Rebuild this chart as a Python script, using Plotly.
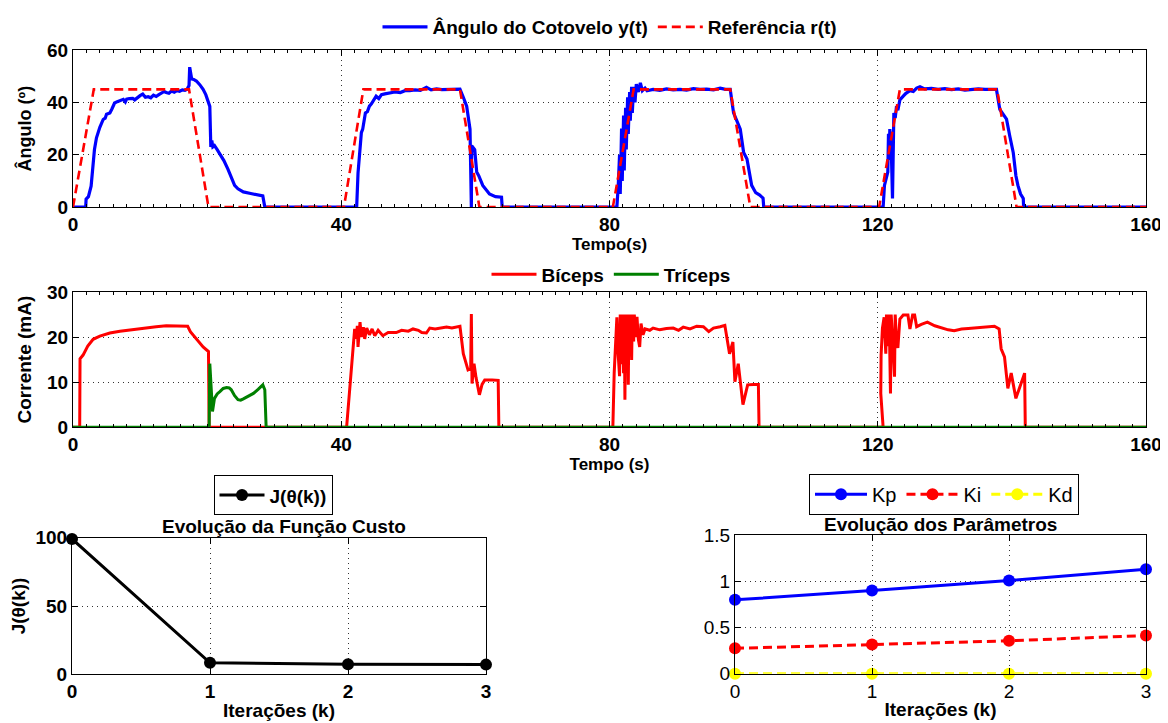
import plotly.graph_objects as go

# ---------------- DATA ----------------
# Reference r(t)
ref_t = [0, 3.1, 17.3, 20.2, 40.4, 43.3, 57.7, 60.6, 80.5, 83.6, 98.0, 101.0,
         120.2, 123.3, 137.8, 140.7, 160]
ref_v = [0, 45, 45, 0, 0, 45, 45, 0, 0, 45, 45, 0, 0, 45, 45, 0, 0]

# Elbow angle y(t), per cycle
ang_t1 = [0, 1.9, 1.95, 2.3, 2.7, 2.9, 3.2, 3.5, 3.7, 4.0, 4.5, 4.8, 5.0, 5.5, 5.8, 6.2, 6.6,
          7.0, 7.5, 7.8, 8.0, 8.4, 8.9, 9.2, 9.6, 10.0, 10.4, 10.8, 11.2, 11.6, 12.0, 12.4,
          12.8, 13.2, 13.6, 13.9, 14.3, 14.7, 15.1, 15.5, 15.9, 16.3, 16.7, 17.0, 17.3, 17.4,
          17.55, 17.7, 18.0, 18.4, 18.9, 19.4, 19.8, 20.1, 20.4, 20.55, 20.7, 20.85, 21.1,
          21.5, 21.9, 22.5, 23.1, 23.6, 24.1, 24.6, 25.4, 26.5, 27.5, 28.3, 28.6]
ang_v1 = [0, 0, 3.0, 4.0, 8.0, 14, 22, 26.5, 28.5, 30.5, 33.5, 34.0, 35.5, 36.0, 37.5, 39.8,
          40.3, 40.6, 41.2, 40.2, 41.3, 41.5, 41.6, 41.0, 42.0, 42.6, 43.2, 42.0, 42.2, 41.8,
          42.8, 42.3, 43.0, 43.6, 44.2, 43.8, 43.5, 44.4, 43.9, 44.5, 44.3, 44.8, 44.6, 45.0,
          46.5, 53.5, 50.0, 49.0, 48.8, 48.2, 46.8, 45.0, 43.0, 41.0, 38.5, 23.0, 25.5, 23.0,
          23.5, 22.0, 20.5, 17.8, 14.5, 11.0, 8.3, 7.0, 5.8, 5.2, 4.8, 4.3, 0]
ang_t2 = [42.3, 42.5, 42.8, 43.0, 43.2, 43.4, 43.6, 43.9, 44.2, 44.5, 44.8, 45.2, 45.6, 46.0,
          46.5, 47.2, 48.0, 48.8, 49.5, 50.2, 51.0, 51.8, 52.7, 53.4, 54.2, 55.0, 55.7, 56.5,
          57.2, 57.7, 58.2, 58.7, 59.2, 59.3, 59.4, 59.45, 59.9, 60.2, 60.5, 61.1, 62.1, 63.0,
          63.9, 64.0]
ang_v2 = [0, 13, 22, 28.5, 29.8, 33.5, 36.0, 36.5, 38.6, 39.5, 41.0, 42.4, 41.5, 43.0, 43.3,
          43.6, 44.0, 43.8, 44.5, 44.5, 44.8, 44.6, 45.8, 44.8, 45.2, 44.9, 45.0, 45.2, 45.0,
          45.1, 42.0, 38.6, 29.8, 0, 0, 23.5, 22.0, 13.4, 12.0, 8.3, 5.0, 4.0, 3.8, 0]
ang_t3 = [81.1, 81.3, 81.5, 81.6, 81.8, 81.9, 82.1, 82.2, 82.4, 82.5, 82.7, 82.8, 83.0, 83.1,
          83.3, 83.4, 83.6, 83.8, 84.0, 84.3, 84.6, 84.9, 85.3, 85.6, 86.5, 87.5, 88.5, 89.5,
          90.5, 91.5, 92.5, 93.5, 94.5, 95.5, 96.5, 97.3, 98.0, 98.5, 99.0, 99.5, 100.0, 100.5,
          101.2, 101.8, 102.4, 102.9, 103.0]
ang_v3 = [0, 8, 20, 5, 30, 10, 35, 14, 38, 22, 42, 28, 44, 33, 46, 36, 46, 40, 47, 44, 47.5,
          44.5, 45.5, 44.5, 45.0, 44.6, 45.2, 44.8, 45.0, 44.7, 45.3, 45.0, 45.1, 44.8, 45.5,
          45.0, 45.0, 36.0, 33.0, 29.8, 20.9, 18.4, 8.3, 5.5, 4.6, 3.4, 0]
ang_t4 = [120.8, 121.0, 121.3, 121.5, 121.6, 121.7, 121.8, 122.0, 122.2, 122.3, 122.4, 122.6,
          122.8, 123.0, 123.3, 123.8, 124.2, 124.8, 125.3, 125.8, 126.3, 127.0, 128.0, 129.0,
          130.0, 131.0, 132.0, 133.0, 134.0, 135.0, 136.0, 137.0, 137.7, 138.2, 138.7, 139.2,
          139.7, 140.2, 140.6, 140.9, 141.3, 141.7, 141.75, 160]
ang_v4 = [0, 8.3, 12, 13.4, 28, 18, 29.8, 24, 3.3, 30, 36, 34, 38.6, 37, 41, 42.4, 43.5, 44.5,
          44.2, 45.5, 46.0, 45.2, 45.4, 45.0, 45.3, 44.9, 45.2, 44.7, 45.0, 45.2, 45.0, 45.1,
          45.0, 37.4, 35.5, 33.6, 27.0, 20.9, 12.0, 8.3, 5.0, 3.3, 0, 0]

# Biceps current
bic_t = [0, 1.0, 1.05, 1.5, 2.2, 3.0, 4.0, 5.5, 7.0, 8.9, 10.5, 12.4, 13.9, 16.0, 17.1, 17.5,
         18.5, 19.4, 20.2, 20.3,
         40.8, 42.0, 42.2, 42.4, 42.5, 42.8, 43.0, 43.3, 43.5, 43.8, 44.2, 44.6, 45.0, 45.5,
         46.2, 47.0, 48.2, 49.0, 50.0, 50.7, 51.5, 52.0, 52.7, 53.2, 54.0, 55.0, 55.7, 56.5,
         57.2, 57.7, 58.2, 58.9, 59.3, 59.4, 59.5, 59.8, 60.1, 60.6, 61.0, 61.4, 62.5, 63.4,
         63.5,
         80.5, 80.7, 81.0, 81.1, 81.3, 81.5, 81.6, 81.8, 81.9, 82.1, 82.2, 82.3, 82.4, 82.6,
         82.7, 82.8, 82.9, 83.1, 83.2, 83.3, 83.4, 83.6, 83.7, 83.9, 84.1, 84.3, 84.5, 84.7,
         85.0, 85.3, 86.0, 86.5, 87.5, 88.5, 89.5, 90.3, 91.0, 92.0, 93.0, 94.0, 94.8, 95.5,
         96.5, 97.2, 97.9, 98.4, 98.7, 99.2, 99.9, 100.3, 100.6, 101.5, 102.2, 102.3,
         120.8, 120.45, 120.5, 120.7, 120.95, 121.2, 121.3, 121.5, 121.7, 121.9, 122.0, 122.2,
         122.5, 122.6, 122.8, 123.0, 123.3, 123.8, 124.5, 124.8, 125.2, 125.5, 125.8, 126.5,
         127.4, 128.5, 129.5, 130.5, 131.4, 132.5, 133.5, 134.9, 136.0, 137.4, 138.1, 138.4,
         138.9, 139.4, 139.9, 140.3, 140.6, 141.2, 141.9, 142.0, 160]
bic_v = [0, 0, 15.2, 16.0, 18.0, 19.5, 20.2, 20.9, 21.3, 21.7, 22.0, 22.3, 22.5, 22.5, 22.4,
         21.2, 19.5, 17.8, 16.8, 0,
         0, 21.8, 19.6, 22.5, 17.8, 23.3, 20.0, 22.2, 19.6, 22.0, 20.5, 21.8, 20.3, 21.5, 20.3,
         21.0, 21.0, 21.5, 21.3, 21.8, 21.5, 21.0, 20.9, 22.0, 21.8, 22.0, 22.2, 22.0, 22.3,
         22.4, 16.3, 12.7, 13.0, 25.1, 9.7, 14.1, 11.0, 7.2, 9.5, 10.5, 10.5, 10.4, 0,
         0, 12, 22, 24.4, 16, 11.3, 25, 14, 25, 12, 25, 6.1, 25, 13, 25, 9.4, 25, 16, 25, 14.9,
         25, 19, 25, 20, 24.5, 19.5, 17.8, 23, 20.5, 21.8, 21.5, 22.0, 21.6, 21.9, 22.0, 21.5,
         22.2, 21.8, 22.4, 22.3, 21.2, 22.0, 22.3, 22.6, 16.3, 18.9, 10.1, 14.1, 5.0, 8.0,
         9.4, 9.5, 9.5, 0,
         0, 7.5, 16, 22, 24.4, 16.3, 25, 18, 25, 7.5, 25, 20, 11.2, 25, 19, 17.6, 24, 24.9,
         24.9, 21.8, 24.9, 24.9, 22.3, 22.8, 23.3, 22.5, 22.0, 21.6, 21.4, 21.8, 21.9, 22.1,
         22.3, 22.4, 21.8, 17.4, 15.6, 8.6, 12.0, 9.0, 6.4, 9.0, 12.0, 0, 0]

# Triceps current
tri_t = [0, 20.3, 20.4, 20.6, 20.8, 21.1, 21.5, 21.9, 22.4, 22.9, 23.3, 23.6, 24.1, 24.6,
         25.0, 25.4, 26.2, 26.9, 27.6, 28.3, 28.6, 28.8, 160]
tri_v = [0, 0, 14.1, 8.0, 3.5, 6.4, 7.4, 7.9, 8.6, 8.8, 8.7, 8.3, 7.0, 6.1, 6.0, 6.3, 6.9,
         7.5, 8.4, 9.4, 8.3, 0, 0]

# Iterations
iters = [0, 1, 2, 3]
cost_J = [99, 8.5, 7.5, 7.2]
Kp = [0.80, 0.90, 1.01, 1.13]
Ki = [0.275, 0.318, 0.357, 0.414]
Kd = [0.0, 0.0, 0.0, 0.0]

# ---------------- FIGURE ----------------
ang_t = ang_t1 + ang_t2 + ang_t3 + ang_t4
ang_v = ang_v1 + ang_v2 + ang_v3 + ang_v4

FONT = "Liberation Sans, Arial, Helvetica, sans-serif"
BLUE, RED, GREEN, YEL = "#0000ff", "#ff0000", "#008000", "#ffff00"

# page body has an 8px margin: figure is drawn at (8, 8)
OFF = 8
W, H = 1168 - OFF, 723 - OFF


def px(x):
    return (x - OFF) / W


def py(y):
    return 1 - (y - OFF) / H


fig = go.Figure()
fig.add_trace(go.Scatter(x=ang_t, y=ang_v, mode="lines", name="Ângulo do Cotovelo y(t)",
                         line=dict(color=BLUE, width=3.2), xaxis="x", yaxis="y",
                         legend="legend", cliponaxis=False))
fig.add_trace(go.Scatter(x=ref_t, y=ref_v, mode="lines", name="Referência r(t)",
                         line=dict(color=RED, width=2.6, dash="9px,5px"), xaxis="x", yaxis="y",
                         legend="legend", cliponaxis=False))
fig.add_trace(go.Scatter(x=bic_t, y=bic_v, mode="lines", name="Bíceps",
                         line=dict(color=RED, width=3), xaxis="x2", yaxis="y2",
                         legend="legend2", cliponaxis=False))
fig.add_trace(go.Scatter(x=tri_t, y=tri_v, mode="lines", name="Tríceps",
                         line=dict(color=GREEN, width=3), xaxis="x2", yaxis="y2",
                         legend="legend2", cliponaxis=False))
fig.add_trace(go.Scatter(x=iters, y=cost_J, mode="lines+markers", name="J(θ(k))",
                         line=dict(color="black", width=3), marker=dict(size=12, color="black"),
                         xaxis="x3", yaxis="y3", legend="legend3", cliponaxis=False))
fig.add_trace(go.Scatter(x=iters, y=Kp, mode="lines+markers", name="Kp",
                         line=dict(color=BLUE, width=3), marker=dict(size=12, color=BLUE),
                         xaxis="x4", yaxis="y4", legend="legend4", cliponaxis=False))
fig.add_trace(go.Scatter(x=iters, y=Ki, mode="lines+markers", name="Ki",
                         line=dict(color=RED, width=3, dash="9px,5px"), marker=dict(size=12, color=RED),
                         xaxis="x4", yaxis="y4", legend="legend4", cliponaxis=False))
fig.add_trace(go.Scatter(x=iters, y=Kd, mode="lines+markers", name="Kd",
                         line=dict(color=YEL, width=3, dash="9px,5px"), marker=dict(size=12, color=YEL),
                         xaxis="x4", yaxis="y4", legend="legend4", cliponaxis=False))

bold_tick = dict(family=FONT, size=19, color="black", weight="bold")
norm_tick = dict(family=FONT, size=19, color="black")


def tfont(size):
    return dict(family=FONT, size=size, color="black", weight="bold")


def ax(domain, rng, tickvals, anchor, tickfont, title=None, tsize=18, minor=None, standoff=None):
    d = dict(domain=domain, range=rng, tickvals=tickvals, anchor=anchor, automargin=False,
             showline=True, linecolor="black", linewidth=1, mirror="allticks",
             ticks="inside", ticklen=6, tickcolor="black", tickwidth=1,
             showgrid=True, gridcolor="#333333", griddash="1px,4px", gridwidth=1,
             zeroline=False, tickfont=tickfont, fixedrange=True)
    if title is not None:
        d["title"] = dict(text=title, font=tfont(tsize))
        if standoff is not None:
            d["title"]["standoff"] = standoff
    if minor is not None:
        d["minor"] = dict(dtick=minor, ticks="inside", ticklen=3, tickcolor="black",
                          showgrid=False)
    return d


XD = [px(73), px(1146)]
fig.update_layout(
    width=W, height=H,
    margin=dict(l=0, r=0, t=0, b=0),
    paper_bgcolor="white", plot_bgcolor="white",
    showlegend=True,
    xaxis=ax(XD, [0, 160], [0, 40, 80, 120, 160], "y", bold_tick, "Tempo(s)", 17, minor=2, standoff=2),
    yaxis=ax([py(202), py(43.5)], [0, 60], [0, 20, 40, 60], "x", bold_tick, "Ângulo (º)", 18, standoff=10),
    xaxis2=ax(XD, [0, 160], [0, 40, 80, 120, 160], "y2", bold_tick, "Tempo (s)", 17, minor=2, standoff=2),
    yaxis2=ax([py(424.3), py(287.7)], [0, 30], [0, 10, 20, 30], "x2", bold_tick, "Corrente (mA)", 19, standoff=10),
    xaxis3=ax([px(72), px(486)], [0, 3], [0, 1, 2, 3], "y3", bold_tick, "Iterações (k)", 19, standoff=2),
    yaxis3=ax([py(674), py(535.7)], [0, 100], [0, 50, 100], "x3", bold_tick, "J(θ(k))", 19, standoff=10),
    xaxis4=ax([px(735), px(1146)], [0, 3], [0, 1, 2, 3], "y4", norm_tick, "Iterações (k)", 19, standoff=2),
    yaxis4=ax([py(673.3), py(533.3)], [0, 1.5], [0, 0.5, 1, 1.5], "x4", norm_tick, None),
    legend=dict(x=px(610), y=py(20), xanchor="center", yanchor="middle", orientation="h",
                font=tfont(19), bgcolor="rgba(0,0,0,0)", itemwidth=45, borderwidth=0),
    legend2=dict(x=px(611), y=py(270), xanchor="center", yanchor="middle", orientation="h",
                 font=tfont(19), bgcolor="rgba(0,0,0,0)", itemwidth=45, borderwidth=0),
    legend3=dict(x=px(273), y=py(493), xanchor="center", yanchor="middle", orientation="h",
                 font=tfont(19), bgcolor="white", bordercolor="black", borderwidth=1, itemwidth=45),
    legend4=dict(x=px(944), y=py(492), xanchor="center", yanchor="middle", orientation="h",
                 font=dict(family=FONT, size=20, color="black"),
                 bgcolor="white", bordercolor="black", borderwidth=1, itemwidth=52),
    annotations=[
        dict(text="Evolução da Função Custo", x=px(284), y=py(525), xref="paper",
             yref="paper", showarrow=False, xanchor="center", yanchor="middle",
             font=tfont(19)),
        dict(text="Evolução dos Parâmetros", x=px(940), y=py(523), xref="paper",
             yref="paper", showarrow=False, xanchor="center", yanchor="middle",
             font=tfont(19)),
    ],
)

fig.write_html("out.html")
